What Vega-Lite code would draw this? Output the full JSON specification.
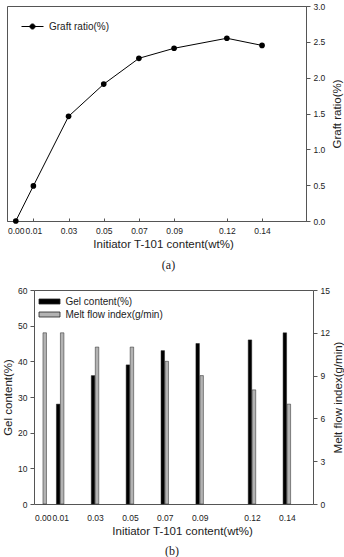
{
  "$schema": "https://vega.github.io/schema/vega-lite/v6.json",
  "padding": {"left": 2, "top": 1, "right": 0, "bottom": 0},
  "spacing": 14,
  "config": {
    "font": "Liberation Sans",
    "view": {"stroke": "#555", "strokeWidth": 1},
    "axis": {
      "domainColor": "#555",
      "tickColor": "#555",
      "labelColor": "#222",
      "titleColor": "#222",
      "labelFont": "Liberation Sans",
      "titleFont": "Liberation Sans",
      "labelFontSize": 8.5,
      "titleFontSize": 11.5,
      "titleFontWeight": "normal",
      "grid": false
    },
    "legend": {"labelFont": "Liberation Sans", "labelFontSize": 10, "labelColor": "#222"},
    "title": {"font": "Liberation Serif", "fontSize": 12, "fontWeight": "normal", "color": "#222"}
  },
  "resolve": {
    "scale": {"x": "independent", "y": "independent", "color": "independent"},
    "legend": {"color": "independent"}
  },
  "vconcat": [
    {
      "width": 299,
      "height": 215,
      "title": {"text": "(a)", "orient": "bottom", "offset": 10, "dx": 12},
      "data": {
        "values": [
          {"content": 0.00, "graft": 0.0},
          {"content": 0.01, "graft": 0.49},
          {"content": 0.03, "graft": 1.46},
          {"content": 0.05, "graft": 1.91},
          {"content": 0.07, "graft": 2.27},
          {"content": 0.09, "graft": 2.41},
          {"content": 0.12, "graft": 2.55},
          {"content": 0.14, "graft": 2.45}
        ]
      },
      "mark": {
        "type": "line",
        "strokeWidth": 1,
        "point": {"filled": true, "size": 32, "color": "black"}
      },
      "encoding": {
        "x": {
          "field": "content",
          "type": "quantitative",
          "scale": {"domain": [-0.005, 0.165], "nice": false, "zero": false, "padding": 0},
          "axis": {
            "title": "Initiator T-101 content(wt%)",
            "values": [0, 0.01, 0.03, 0.05, 0.07, 0.09, 0.12, 0.14],
            "format": ".2f",
            "tickSize": -3,
            "labelPadding": 8,
            "titlePadding": 4,
            "titleX": 156
          }
        },
        "y": {
          "field": "graft",
          "type": "quantitative",
          "scale": {"domain": [0, 3], "nice": false},
          "axis": {
            "orient": "right",
            "title": "Graft ratio(%)",
            "titleAngle": 270,
            "titleBaseline": "top",
            "values": [0, 0.5, 1, 1.5, 2, 2.5, 3],
            "format": ".1f",
            "tickSize": 4,
            "labelPadding": 3,
            "titlePadding": 7
          }
        },
        "color": {
          "datum": "Graft ratio(%)",
          "scale": {"domain": ["Graft ratio(%)"], "range": ["black"]},
          "legend": {
            "title": null,
            "orient": "none",
            "legendX": 14,
            "legendY": 9,
            "symbolType": "M-1,0H1M-0.23,0A0.23,0.23,0,1,0,0.23,0A0.23,0.23,0,1,0,-0.23,0Z",
            "symbolSize": 484,
            "symbolFillColor": "black",
            "symbolStrokeColor": "black",
            "symbolStrokeWidth": 1,
            "labelOffset": 5
          }
        }
      }
    },
    {
      "width": 306,
      "height": 214,
      "view": {"stroke": null},
      "title": {"text": "(b)", "orient": "bottom", "offset": 9, "dx": 12},
      "data": {
        "values": [
          {"content": 0.00, "gel": null, "melt": 12},
          {"content": 0.01, "gel": 28, "melt": 12},
          {"content": 0.03, "gel": 36, "melt": 11},
          {"content": 0.05, "gel": 39, "melt": 11},
          {"content": 0.07, "gel": 43, "melt": 10},
          {"content": 0.09, "gel": 45, "melt": 9},
          {"content": 0.12, "gel": 46, "melt": 8},
          {"content": 0.14, "gel": 48, "melt": 7}
        ]
      },
      "layer": [
        {
          "mark": {"type": "bar", "width": 3.5, "xOffset": -2, "stroke": "#222", "strokeWidth": 0.5, "opacity": 1},
          "encoding": {
            "x": {
              "field": "content",
              "type": "quantitative",
              "scale": {"domain": [-0.005, 0.155], "range": [27, 306], "nice": false, "zero": false, "padding": 0},
              "axis": {
                "title": "Initiator T-101 content(wt%)",
                "values": [0, 0.01, 0.03, 0.05, 0.07, 0.09, 0.12, 0.14],
                "format": ".2f",
                "ticks": false,
                "labelPadding": 9,
                "titlePadding": 4,
                "titleX": 175
              }
            },
            "y": {
              "field": "gel",
              "type": "quantitative",
              "scale": {"domain": [0, 60], "nice": false},
              "axis": {
                "orient": "left",
                "offset": -27,
                "title": "Gel content(%)",
                "values": [0, 10, 20, 30, 40, 50, 60],
                "tickSize": 4,
                "labelPadding": 3,
                "titlePadding": 4
              }
            },
            "color": {
              "datum": "Gel content(%)",
              "scale": {
                "domain": ["Gel content(%)", "Melt flow index(g/min)"],
                "range": ["black", "#b3b3b3"]
              },
              "legend": {
                "title": null,
                "orient": "none",
                "legendX": 37,
                "legendY": 6,
                "symbolType": "M-2.1,-0.5H2.1V0.5H-2.1Z",
                "symbolSize": 100,
                "symbolStrokeColor": "#222",
                "symbolStrokeWidth": 0.8,
                "symbolOpacity": 1,
                "labelOffset": 10.5,
                "rowPadding": 2
              }
            }
          }
        },
        {
          "mark": {"type": "bar", "width": 3.5, "xOffset": 2, "stroke": "#222", "strokeWidth": 0.5, "opacity": 1},
          "encoding": {
            "x": {
              "field": "content",
              "type": "quantitative",
              "axis": {
                "orient": "top",
                "title": null,
                "labels": false,
                "ticks": false
              }
            },
            "y": {
              "field": "melt",
              "type": "quantitative",
              "scale": {"domain": [0, 15], "nice": false},
              "axis": {
                "orient": "right",
                "title": "Melt flow index(g/min)",
                "titleAngle": 270,
                "titleBaseline": "top",
                "values": [0, 3, 6, 9, 12, 15],
                "tickSize": 4,
                "labelPadding": 3,
                "titlePadding": 3
              }
            },
            "color": {"datum": "Melt flow index(g/min)"}
          }
        }
      ],
      "resolve": {"scale": {"y": "independent"}, "axis": {"x": "independent"}}
    }
  ]
}
